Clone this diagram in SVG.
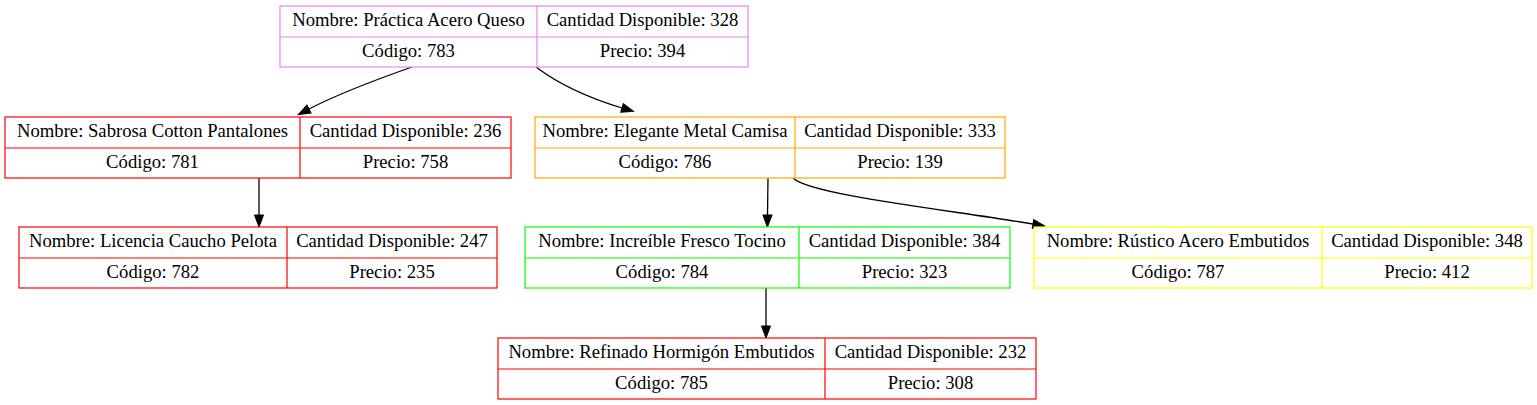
<svg xmlns="http://www.w3.org/2000/svg" width="1537" height="405" viewBox="0 0 1537 405">
<style>
text{font-size:18.67px;fill:#000;text-anchor:middle;stroke:none}
.edge{fill:none;stroke:#000;stroke-width:1.3}
.cell{fill:#fff;stroke-width:1.2}
.div{fill:none;stroke-width:1.2}
</style>
<defs>
<marker id="ah" markerUnits="userSpaceOnUse" markerWidth="12" markerHeight="10" refX="0" refY="4.5" orient="auto" overflow="visible">
<path d="M0,0 L12,4.5 L0,9 z" fill="#000" stroke="#000"/>
</marker>
</defs>
<rect width="1537" height="405" fill="#fff"/>
<g id="connectors">
<path class="edge" marker-end="url(#ah)" d="M412,67 C375,80 340,93 309,109"/>
<path class="edge" marker-end="url(#ah)" d="M536,67 C560,85 592,99 622,108"/>
<path class="edge" marker-end="url(#ah)" d="M259,178 L259,215"/>
<path class="edge" marker-end="url(#ah)" d="M768,178 L767.5,215"/>
<path class="edge" marker-end="url(#ah)" d="M793,178 C810,195 950,210 1033,224"/>
<path class="edge" marker-end="url(#ah)" d="M766,288 L766,326"/>
</g>
<g font-family="Liberation Serif, DejaVu Serif, Times New Roman, serif">
<g id="n783">
<rect class="cell" x="280" y="6" width="468" height="61" stroke="#ee82ee"/>
<path class="div" d="M280,37H748M537,6V67" stroke="#ee82ee"/>
<text x="408.5" y="26">Nombre: Práctica Acero Queso</text>
<text x="642.5" y="26">Cantidad Disponible: 328</text>
<text x="408.5" y="57">Código: 783</text>
<text x="642.5" y="57">Precio: 394</text>
</g>
<g id="n781">
<rect class="cell" x="5" y="117" width="506" height="61" stroke="#ff0000"/>
<path class="div" d="M5,148H511M300,117V178" stroke="#ff0000"/>
<text x="152.5" y="137">Nombre: Sabrosa Cotton Pantalones</text>
<text x="405.5" y="137">Cantidad Disponible: 236</text>
<text x="152.5" y="168">Código: 781</text>
<text x="405.5" y="168">Precio: 758</text>
</g>
<g id="n786">
<rect class="cell" x="535" y="117" width="470" height="61" stroke="#ffa500"/>
<path class="div" d="M535,148H1005M795,117V178" stroke="#ffa500"/>
<text x="665" y="137">Nombre: Elegante Metal Camisa</text>
<text x="900" y="137">Cantidad Disponible: 333</text>
<text x="665" y="168">Código: 786</text>
<text x="900" y="168">Precio: 139</text>
</g>
<g id="n782">
<rect class="cell" x="19" y="227" width="478" height="61" stroke="#ff0000"/>
<path class="div" d="M19,258H497M287,227V288" stroke="#ff0000"/>
<text x="153" y="247">Nombre: Licencia Caucho Pelota</text>
<text x="392" y="247">Cantidad Disponible: 247</text>
<text x="153" y="278">Código: 782</text>
<text x="392" y="278">Precio: 235</text>
</g>
<g id="n784">
<rect class="cell" x="525" y="227" width="485" height="61" stroke="#00ff00"/>
<path class="div" d="M525,258H1010M799,227V288" stroke="#00ff00"/>
<text x="662" y="247">Nombre: Increíble Fresco Tocino</text>
<text x="904.5" y="247">Cantidad Disponible: 384</text>
<text x="662" y="278">Código: 784</text>
<text x="904.5" y="278">Precio: 323</text>
</g>
<g id="n787">
<rect class="cell" x="1034" y="227" width="498" height="61" stroke="#ffff00"/>
<path class="div" d="M1034,258H1532M1322,227V288" stroke="#ffff00"/>
<text x="1178" y="247">Nombre: Rústico Acero Embutidos</text>
<text x="1427" y="247">Cantidad Disponible: 348</text>
<text x="1178" y="278">Código: 787</text>
<text x="1427" y="278">Precio: 412</text>
</g>
<g id="n785">
<rect class="cell" x="498" y="338" width="538" height="61" stroke="#ff0000"/>
<path class="div" d="M498,369H1036M825,338V399" stroke="#ff0000"/>
<text x="661.5" y="358">Nombre: Refinado Hormigón Embutidos</text>
<text x="930.5" y="358">Cantidad Disponible: 232</text>
<text x="661.5" y="389">Código: 785</text>
<text x="930.5" y="389">Precio: 308</text>
</g>
</g>
</svg>
